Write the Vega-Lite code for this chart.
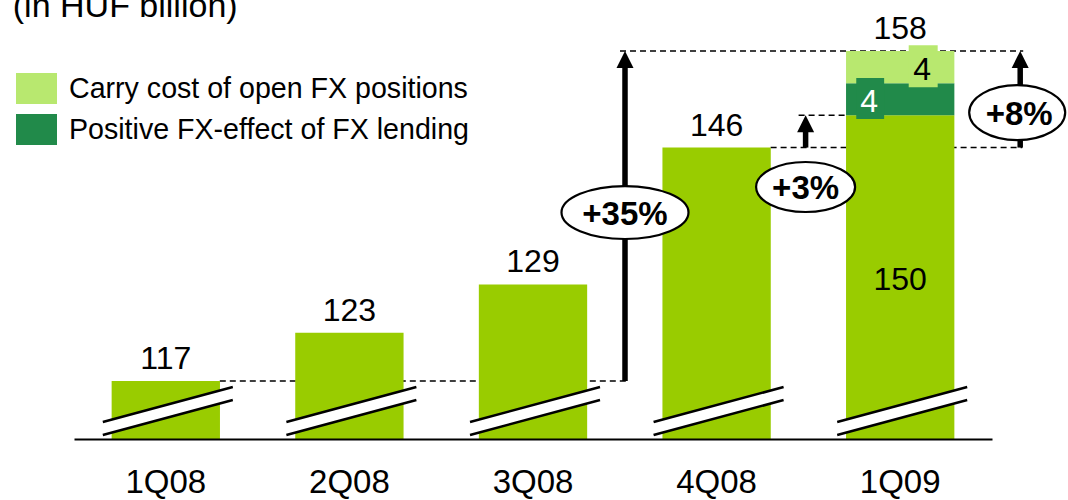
{
  "$schema": "https://vega.github.io/schema/vega-lite/v6.json",
  "width": 1068,
  "height": 439,
  "autosize": "none",
  "padding": {"left": 0, "top": 0, "right": 0, "bottom": 61},
  "background": "white",
  "config": {"font": "Liberation Sans", "view": {"stroke": null}},
  "datasets": {
    "bars": [
      {"quarter": "1Q08", "component": "Underlying", "value": 117},
      {"quarter": "2Q08", "component": "Underlying", "value": 123},
      {"quarter": "3Q08", "component": "Underlying", "value": 129},
      {"quarter": "4Q08", "component": "Underlying", "value": 146},
      {"quarter": "1Q09", "component": "Underlying", "value": 150},
      {"quarter": "1Q09", "component": "Positive FX-effect of FX lending", "value": 4},
      {"quarter": "1Q09", "component": "Carry cost of open FX positions", "value": 4}
    ]
  },
  "layer": [
    {
      "data": {"values": [{"level": 117}]},
      "mark": {"type": "rule", "color": "black", "strokeWidth": 1.5, "strokeDash": [6, 4], "xOffset": 54, "x2Offset": 95},
      "encoding": {
        "x": {"datum": "1Q08", "type": "nominal"},
        "x2": {"datum": "3Q08"},
        "y": {"field": "level", "type": "quantitative", "axis": null}
      }
    },
    {
      "data": {"values": [{"level": 158}]},
      "mark": {"type": "rule", "color": "black", "strokeWidth": 1.5, "strokeDash": [6, 4], "xOffset": 87, "x2Offset": 123},
      "encoding": {
        "x": {"datum": "3Q08", "type": "nominal"},
        "x2": {"datum": "1Q09"},
        "y": {"field": "level", "type": "quantitative", "axis": null}
      }
    },
    {
      "data": {"values": [{"level": 146}]},
      "mark": {"type": "rule", "color": "black", "strokeWidth": 1.5, "strokeDash": [6, 4], "xOffset": 54, "x2Offset": 122},
      "encoding": {
        "x": {"datum": "4Q08", "type": "nominal"},
        "x2": {"datum": "1Q09"},
        "y": {"field": "level", "type": "quantitative", "axis": null}
      }
    },
    {
      "data": {"values": [{"level": 150}]},
      "mark": {"type": "rule", "color": "black", "strokeWidth": 1.5, "strokeDash": [6, 4], "xOffset": 82, "x2Offset": -55},
      "encoding": {
        "x": {"datum": "4Q08", "type": "nominal"},
        "x2": {"datum": "1Q09"},
        "y": {"field": "level", "type": "quantitative", "axis": null}
      }
    },
    {
      "data": {"name": "bars"},
      "mark": {"type": "bar", "clip": true},
      "encoding": {
        "x": {
          "field": "quarter", "type": "nominal",
          "scale": {"type": "band", "domain": ["1Q08", "2Q08", "3Q08", "4Q08", "1Q09"], "range": [74, 992], "paddingInner": 0.41, "paddingOuter": 0.205},
          "axis": {"title": null, "domain": true, "domainColor": "black", "domainWidth": 2, "ticks": false, "grid": false, "labelAngle": 0, "labelAlign": "center", "labelFontSize": 33, "labelFont": "Liberation Sans", "labelColor": "black", "labelBaseline": "alphabetic", "labelPadding": 53, "zindex": 1}
        },
        "y": {"field": "value", "type": "quantitative", "stack": "zero", "scale": {"domain": [109.8, 164.33], "zero": false, "nice": false}, "axis": null},
        "color": {
          "field": "component", "type": "nominal",
          "scale": {"domain": ["Carry cost of open FX positions", "Positive FX-effect of FX lending", "Underlying"], "range": ["#b8e86f", "#218a4a", "#99cc00"]},
          "legend": {"values": ["Carry cost of open FX positions", "Positive FX-effect of FX lending"], "orient": "none", "direction": "vertical", "legendX": 16, "legendY": 68, "title": null, "padding": 0, "symbolType": "M-1,-0.756H1V0.756H-1Z", "symbolSize": 1681, "symbolStrokeWidth": 0, "symbolOpacity": 1, "labelFontSize": 28.6, "labelFont": "Liberation Sans", "labelColor": "black", "labelOffset": 12, "rowPadding": 5, "labelLimit": 0}
        },
        "order": {"field": "component", "sort": "descending"}
      }
    },
    {
      "data": {"values": [{"note": "(in HUF billion)"}]},
      "mark": {"type": "text", "fontSize": 34, "baseline": "alphabetic", "align": "left", "color": "black", "xOffset": -153},
      "encoding": {
        "x": {"datum": "1Q08", "type": "nominal"},
        "y": {"datum": 162.22, "type": "quantitative", "axis": null},
        "text": {"field": "note"}
      }
    },
    {
      "data": {"name": "bars"},
      "transform": [{"filter": "datum.component === 'Positive FX-effect of FX lending'"}],
      "mark": {"type": "point", "shape": "M-0.68,-1H0.68V1H-0.68Z", "size": 1681, "filled": true, "fill": "#218a4a", "opacity": 1, "strokeWidth": 0, "xOffset": -30},
      "encoding": {
        "x": {"field": "quarter", "type": "nominal"},
        "y": {"datum": 152.1, "type": "quantitative", "axis": null}
      }
    },
    {
      "data": {"name": "bars"},
      "transform": [{"filter": "datum.component === 'Carry cost of open FX positions'"}],
      "mark": {"type": "point", "shape": "M-0.69,-1H0.69V1H-0.69Z", "size": 1764, "filled": true, "fill": "#b8e86f", "opacity": 1, "strokeWidth": 0, "xOffset": 23},
      "encoding": {
        "x": {"field": "quarter", "type": "nominal"},
        "y": {"datum": 156.1, "type": "quantitative", "axis": null}
      }
    },
    {
      "data": {"name": "bars"},
      "transform": [{"filter": "datum.component === 'Underlying'"}],
      "mark": {"type": "rule", "color": "white", "strokeWidth": 12, "xOffset": -63, "x2Offset": 67},
      "encoding": {
        "x": {"field": "quarter", "type": "nominal"},
        "x2": {"field": "quarter"},
        "y": {"datum": 111.1, "type": "quantitative", "axis": null},
        "y2": {"datum": 115.45}
      }
    },
    {
      "data": {"name": "bars"},
      "transform": [{"filter": "datum.component === 'Underlying'"}],
      "mark": {"type": "rule", "color": "black", "strokeWidth": 2.5, "xOffset": -63, "x2Offset": 67},
      "encoding": {
        "x": {"field": "quarter", "type": "nominal"},
        "x2": {"field": "quarter"},
        "y": {"datum": 111.907, "type": "quantitative", "axis": null},
        "y2": {"datum": 116.255}
      }
    },
    {
      "data": {"name": "bars"},
      "transform": [{"filter": "datum.component === 'Underlying'"}],
      "mark": {"type": "rule", "color": "black", "strokeWidth": 2.5, "xOffset": -63, "x2Offset": 67},
      "encoding": {
        "x": {"field": "quarter", "type": "nominal"},
        "x2": {"field": "quarter"},
        "y": {"datum": 110.29, "type": "quantitative", "axis": null},
        "y2": {"datum": 114.64}
      }
    },
    {
      "data": {"name": "bars"},
      "transform": [{"aggregate": [{"op": "sum", "field": "value", "as": "total"}], "groupby": ["quarter"]}],
      "mark": {"type": "text", "fontSize": 32, "baseline": "alphabetic", "align": "center", "dy": -12, "color": "black"},
      "encoding": {
        "x": {"field": "quarter", "type": "nominal"},
        "y": {"field": "total", "type": "quantitative", "axis": null},
        "text": {"field": "total", "type": "quantitative"}
      }
    },
    {
      "data": {"name": "bars"},
      "transform": [{"filter": "datum.quarter === '1Q09' && datum.component === 'Underlying'"}],
      "mark": {"type": "text", "fontSize": 32, "baseline": "alphabetic", "align": "center", "color": "black"},
      "encoding": {
        "x": {"field": "quarter", "type": "nominal"},
        "y": {"datum": 128.3, "type": "quantitative", "axis": null},
        "text": {"field": "value", "type": "quantitative"}
      }
    },
    {
      "data": {"name": "bars"},
      "transform": [{"filter": "datum.component === 'Positive FX-effect of FX lending'"}],
      "mark": {"type": "text", "fontSize": 32, "baseline": "alphabetic", "align": "center", "color": "white", "xOffset": -31},
      "encoding": {
        "x": {"field": "quarter", "type": "nominal"},
        "y": {"datum": 150.42, "type": "quantitative", "axis": null},
        "text": {"field": "value", "type": "quantitative"}
      }
    },
    {
      "data": {"name": "bars"},
      "transform": [{"filter": "datum.component === 'Carry cost of open FX positions'"}],
      "mark": {"type": "text", "fontSize": 32, "baseline": "alphabetic", "align": "center", "color": "black", "xOffset": 22},
      "encoding": {
        "x": {"field": "quarter", "type": "nominal"},
        "y": {"datum": 154.4, "type": "quantitative", "axis": null},
        "text": {"field": "value", "type": "quantitative"}
      }
    },
    {
      "data": {"values": [{"label": "+35%", "from": 117, "to": 158}]},
      "layer": [
        {
          "mark": {"type": "rule", "color": "black", "strokeWidth": 5.5, "xOffset": 92, "y2Offset": 10},
          "encoding": {"x": {"datum": "3Q08", "type": "nominal"}, "y": {"field": "from", "type": "quantitative", "axis": null}, "y2": {"field": "to"}}
        },
        {
          "mark": {"type": "point", "shape": "M0,0L1,2L-1,2Z", "size": 289, "filled": true, "color": "black", "opacity": 1, "strokeWidth": 0, "xOffset": 92},
          "encoding": {"x": {"datum": "3Q08", "type": "nominal"}, "y": {"field": "to", "type": "quantitative", "axis": null}}
        },
        {
          "mark": {"type": "point", "shape": "M-1,0C-1,-0.2304,-0.5523,-0.417,0,-0.417C0.5523,-0.417,1,-0.2304,1,0C1,0.2304,0.5523,0.417,0,0.417C-0.5523,0.417,-1,0.2304,-1,0Z", "size": 16129, "filled": true, "fill": "white", "stroke": "black", "strokeWidth": 2.2, "opacity": 1, "xOffset": 92},
          "encoding": {"x": {"datum": "3Q08", "type": "nominal"}, "y": {"datum": 137.93, "type": "quantitative", "axis": null}}
        },
        {
          "mark": {"type": "text", "fontSize": 33, "fontWeight": "bold", "baseline": "alphabetic", "align": "center", "color": "black", "xOffset": 92},
          "encoding": {"x": {"datum": "3Q08", "type": "nominal"}, "y": {"datum": 136.38, "type": "quantitative", "axis": null}, "text": {"field": "label"}}
        }
      ]
    },
    {
      "data": {"values": [{"label": "+3%", "from": 146, "to": 150}]},
      "layer": [
        {
          "mark": {"type": "rule", "color": "black", "strokeWidth": 5.5, "xOffset": 89, "y2Offset": 10},
          "encoding": {"x": {"datum": "4Q08", "type": "nominal"}, "y": {"field": "from", "type": "quantitative", "axis": null}, "y2": {"field": "to"}}
        },
        {
          "mark": {"type": "point", "shape": "M0,0L1,2L-1,2Z", "size": 289, "filled": true, "color": "black", "opacity": 1, "strokeWidth": 0, "xOffset": 89},
          "encoding": {"x": {"datum": "4Q08", "type": "nominal"}, "y": {"field": "to", "type": "quantitative", "axis": null}}
        },
        {
          "mark": {"type": "point", "shape": "M-1,0C-1,-0.2789,-0.5523,-0.505,0,-0.505C0.5523,-0.505,1,-0.2789,1,0C1,0.2789,0.5523,0.505,0,0.505C-0.5523,0.505,-1,0.2789,-1,0Z", "size": 9801, "filled": true, "fill": "white", "stroke": "black", "strokeWidth": 2.2, "opacity": 1, "xOffset": 89},
          "encoding": {"x": {"datum": "4Q08", "type": "nominal"}, "y": {"datum": 141.1, "type": "quantitative", "axis": null}}
        },
        {
          "mark": {"type": "text", "fontSize": 33, "fontWeight": "bold", "baseline": "alphabetic", "align": "center", "color": "black", "xOffset": 89},
          "encoding": {"x": {"datum": "4Q08", "type": "nominal"}, "y": {"datum": 139.6, "type": "quantitative", "axis": null}, "text": {"field": "label"}}
        }
      ]
    },
    {
      "data": {"values": [{"label": "+8%", "from": 146, "to": 158}]},
      "layer": [
        {
          "mark": {"type": "rule", "color": "black", "strokeWidth": 5.5, "xOffset": 120, "y2Offset": 10},
          "encoding": {"x": {"datum": "1Q09", "type": "nominal"}, "y": {"field": "from", "type": "quantitative", "axis": null}, "y2": {"field": "to"}}
        },
        {
          "mark": {"type": "point", "shape": "M0,0L1,2L-1,2Z", "size": 289, "filled": true, "color": "black", "opacity": 1, "strokeWidth": 0, "xOffset": 120},
          "encoding": {"x": {"datum": "1Q09", "type": "nominal"}, "y": {"field": "to", "type": "quantitative", "axis": null}}
        },
        {
          "mark": {"type": "point", "shape": "M-1,0C-1,-0.3165,-0.5523,-0.573,0,-0.573C0.5523,-0.573,1,-0.3165,1,0C1,0.3165,0.5523,0.573,0,0.573C-0.5523,0.573,-1,0.3165,-1,0Z", "size": 9216, "filled": true, "fill": "white", "stroke": "black", "strokeWidth": 2.2, "opacity": 1, "xOffset": 117},
          "encoding": {"x": {"datum": "1Q09", "type": "nominal"}, "y": {"datum": 150.35, "type": "quantitative", "axis": null}}
        },
        {
          "mark": {"type": "text", "fontSize": 33, "fontWeight": "bold", "baseline": "alphabetic", "align": "center", "color": "black", "xOffset": 119},
          "encoding": {"x": {"datum": "1Q09", "type": "nominal"}, "y": {"datum": 148.8, "type": "quantitative", "axis": null}, "text": {"field": "label"}}
        }
      ]
    }
  ]
}
